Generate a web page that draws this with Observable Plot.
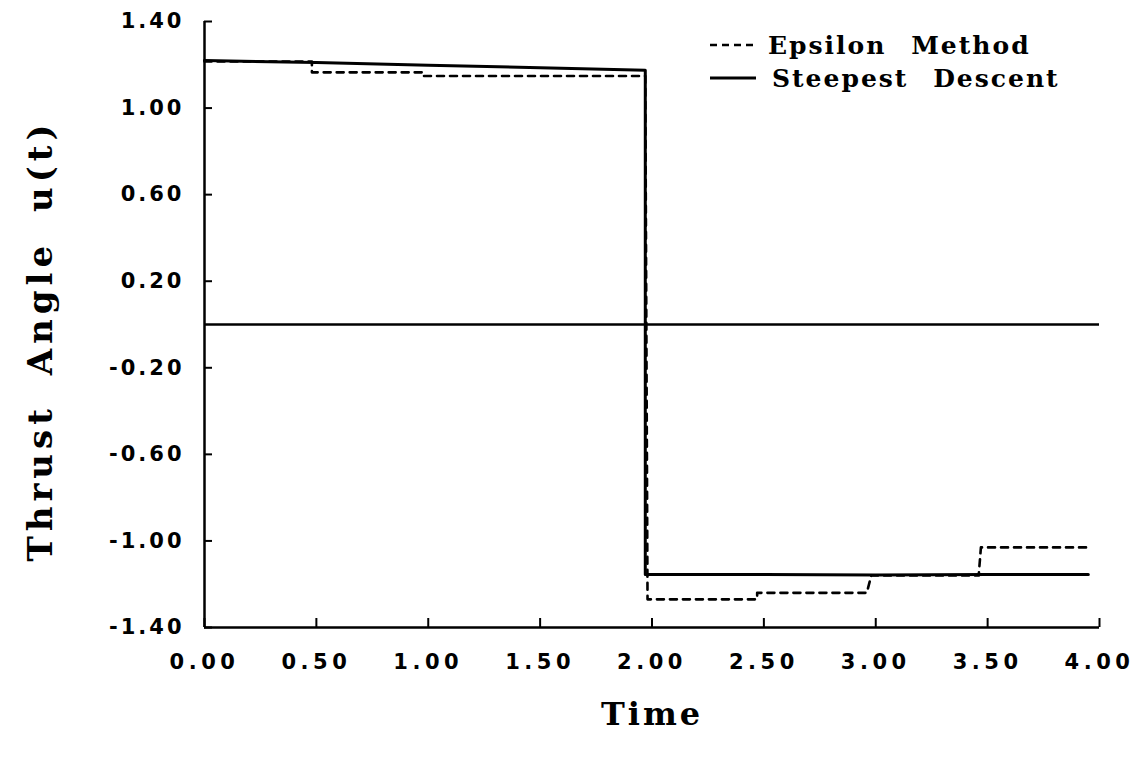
<!DOCTYPE html>
<html>
<head>
<meta charset="utf-8">
<script src="https://cdn.jsdelivr.net/npm/d3@7"></script>
<script src="https://cdn.jsdelivr.net/npm/@observablehq/plot@0.6"></script>
<style>
  html, body { margin: 0; padding: 0; background: #fff; }
  #wrap { position: relative; width: 1137px; height: 761px; }
  #wrap svg { font-family: "DejaVu Sans", sans-serif; }
  g[aria-label="y-axis tick label"] text { font-family: "DejaVu Sans", sans-serif; font-weight: bold; font-size: 21px; letter-spacing: 3px; fill: #000; }
  g[aria-label="x-axis tick label"] text { font-family: "DejaVu Sans", sans-serif; font-weight: bold; font-size: 21px; letter-spacing: 4.5px; fill: #000; }
  g[aria-label="x-axis label"] text { font-family: "DejaVu Serif", serif; font-weight: bold; font-size: 32px; letter-spacing: 3px; fill: #000; }
  .ylab text { font-family: "DejaVu Serif", serif; font-weight: bold; font-size: 34px; letter-spacing: 5px; word-spacing: 12px; fill: #000; }
  #legend { position: absolute; left: 0; top: 0; }
  #legend text { font-family: "DejaVu Serif", serif; font-weight: bold; font-size: 25px; letter-spacing: 2px; word-spacing: 14px; }
</style>
</head>
<body>
<div id="wrap"></div>
<script>
// Tick values
const xTicks = [0, 0.5, 1.0, 1.5, 2.0, 2.5, 3.0, 3.5, 4.0];
const yTicks = [1.4, 1.0, 0.6, 0.2, -0.2, -0.6, -1.0, -1.4];

// Steepest Descent (solid)
const sdTime  = [0, 0.5, 1.0, 1.5, 1.97, 1.97, 2.5, 3.0, 3.5, 3.95];
const sdValue = [1.22, 1.21, 1.198, 1.186, 1.175, -1.155, -1.155, -1.158, -1.155, -1.155];

// Epsilon Method (dashed)
const epTime  = [0, 0.48, 0.48, 0.98, 0.98, 1.97, 1.98, 2.47, 2.47, 2.96, 2.98, 3.46, 3.47, 3.95];
const epValue = [1.215, 1.215, 1.165, 1.165, 1.148, 1.148, -1.27, -1.27, -1.24, -1.24, -1.16, -1.16, -1.03, -1.03];

const seriesNames = ["Epsilon Method", "Steepest Descent"];
const xLabel = "Time";
const yLabel = "Thrust Angle u(t)";

const sd = sdTime.map((t, i) => ({t, u: sdValue[i]}));
const ep = epTime.map((t, i) => ({t, u: epValue[i]}));

const W = 1137, H = 761;
const mL = 204, mR = 38, mT = 21, mB = 134;
const frameW = W - mL - mR, frameH = H - mT - mB;

const chart = Plot.plot({
  width: W, height: H,
  marginLeft: mL, marginRight: mR, marginTop: mT, marginBottom: mB,
  x: {domain: [0, 4]},
  y: {domain: [-1.4, 1.4]},
  marks: [
    Plot.axisX(xTicks, {tickSize: 0, tickPadding: 27, tickFormat: d3.format(".2f"),
      label: xLabel, labelAnchor: "center", labelArrow: "none", labelOffset: 97}),
    Plot.axisY(yTicks, {tickSize: 0, tickPadding: 20, tickFormat: d => d3.format(".2f")(d).replace("−", "-"),
      label: null}),
    Plot.text([yLabel], {frameAnchor: "left", text: d => d, rotate: -90, dx: -163, dy: 16,
      textAnchor: "middle", className: "ylab"}),
    Plot.ruleX([0], {stroke: "#000", strokeWidth: 2.5}),
    Plot.ruleY([-1.4], {stroke: "#000", strokeWidth: 2.5}),
    Plot.tickX(xTicks, {x: d => d, insetTop: frameH - 9, stroke: "#000", strokeWidth: 2}),
    Plot.tickY(yTicks, {y: d => d, insetRight: frameW - 8, stroke: "#000", strokeWidth: 2}),
    Plot.ruleY([0], {stroke: "#000", strokeWidth: 2.5}),
    Plot.line(ep, {x: "t", y: "u", stroke: "#000", strokeWidth: 2.6, strokeDasharray: "7,6"}),
    Plot.line(sd, {x: "t", y: "u", stroke: "#000", strokeWidth: 3})
  ]
});

document.getElementById("wrap").appendChild(chart);

// Legend overlay
const leg = d3.select("#wrap").append("svg").attr("id", "legend")
  .attr("width", W).attr("height", 120);
const rows = [
  {name: seriesNames[0], dash: "7,5", y: 45, tx: 768},
  {name: seriesNames[1], dash: null, y: 78, tx: 772}
];
rows.forEach(r => {
  leg.append("line").attr("x1", 710).attr("x2", 756).attr("y1", r.y).attr("y2", r.y)
    .attr("stroke", "#000").attr("stroke-width", r.dash ? 2.5 : 3)
    .attr("stroke-dasharray", r.dash);
  leg.append("text").attr("x", r.tx).attr("y", r.y + 9).attr("fill", "#000").text(r.name);
});
</script>
</body>
</html>
